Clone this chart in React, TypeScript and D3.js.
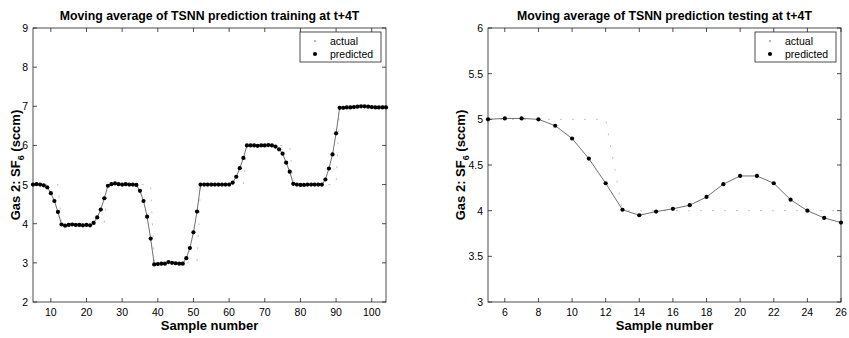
import React from 'react';
import * as d3 from 'd3';

// sample numbers
const trainSamples = d3.range(5, 105);
const testSamples = d3.range(5, 27);

// training: moving average, actual vs predicted
const trainActual = [
  5, 5, 5, 5, 5, 5, 5, 5,
  4, 4, 4, 4, 4, 4, 4, 4, 4, 4, 4, 4, 4,
  5, 5, 5, 5, 5, 5, 5, 5, 5, 5, 5, 5, 5,
  3, 3, 3, 3, 3, 3, 3, 3, 3, 3, 3, 3, 3,
  5, 5, 5, 5, 5, 5, 5, 5, 5, 5, 5, 5, 5,
  6, 6, 6, 6, 6, 6, 6, 6, 6, 6, 6, 6, 6,
  5, 5, 5, 5, 5, 5, 5, 5, 5, 5, 5, 5, 5,
  7, 7, 7, 7, 7, 7, 7, 7, 7, 7, 7, 7, 7, 7,
];
const trainPredicted = [
  5.0, 5.01, 5.0, 4.98, 4.93, 4.78, 4.58, 4.3, 3.98, 3.95,
  3.97, 3.98, 3.97, 3.97, 3.96, 3.97, 3.96, 4.02, 4.16, 4.36,
  4.65, 4.97, 5.01, 5.03, 5.01, 5.0, 5.01, 5.0, 5.0, 4.99,
  4.84, 4.58, 4.18, 3.62, 2.96, 2.97, 2.98, 2.98, 3.02, 3.0,
  2.99, 2.98, 2.98, 3.12, 3.38, 3.78, 4.31, 5.0, 5.0, 5.0,
  5.0, 5.0, 5.0, 5.0, 5.0, 5.0, 5.05, 5.2, 5.42, 5.68,
  6.0, 6.0, 6.0, 5.99, 6.0, 6.0, 6.01, 6.0, 5.97, 5.9,
  5.79, 5.56, 5.33, 5.02, 5.0, 4.99, 4.99, 5.0, 5.0, 5.0,
  5.0, 5.0, 5.13, 5.41, 5.77, 6.31, 6.96, 6.96, 6.97, 6.97,
  6.98, 6.99, 7.0, 7.0, 6.99, 6.98, 6.97, 6.97, 6.97, 6.97,
];

// testing
const testActual = [5, 5, 5, 5, 5, 5, 5, 5, 4, 4, 4, 4, 4, 4, 4, 4, 4, 4, 4, 4, 4, 4];
const testPredicted = [
  5.0, 5.01, 5.01, 5.0, 4.93, 4.79, 4.57, 4.3, 4.01, 3.95, 3.99,
  4.02, 4.06, 4.15, 4.29, 4.38, 4.38, 4.3, 4.12, 4.0, 3.92, 3.87,
];

const trainXTicks = [10, 20, 30, 40, 50, 60, 70, 80, 90, 100];
const trainYTicks = [2, 3, 4, 5, 6, 7, 8, 9];
const testXTicks = [6, 8, 10, 12, 14, 16, 18, 20, 22, 24, 26];
const testYTicks = [3, 3.5, 4, 4.5, 5, 5.5, 6];

const font = 'Arial, "Liberation Sans", Helvetica, sans-serif';

function Panel({ left, right, top, bottom, xDomain, yDomain, xTicks, yTicks, samples, actual, predicted, title, labelOffset }) {
  const x = d3.scaleLinear().domain(xDomain).range([left, right]);
  const y = d3.scaleLinear().domain(yDomain).range([bottom, top]);
  const line = d3.line<number>().x((_, i) => x(samples[i])).y(d => y(d));
  const tk = 4;
  const cx = (left + right) / 2;
  const cy = (top + bottom) / 2;
  const lgX = right - 86;
  return (
    <g fontFamily={font}>
      <text x={cx} y={20} textAnchor="middle" fontSize={12.3} fontWeight="bold">{title}</text>
      <rect x={left} y={top} width={right - left} height={bottom - top} fill="none" stroke="#222" strokeWidth={0.8} />
      {xTicks.map(t => (
        <g key={'x' + t}>
          <line x1={x(t)} x2={x(t)} y1={bottom} y2={bottom - tk} stroke="#222" strokeWidth={0.8} />
          <line x1={x(t)} x2={x(t)} y1={top} y2={top + tk} stroke="#222" strokeWidth={0.8} />
          <text x={x(t)} y={bottom + 14} textAnchor="middle" fontSize={10.5}>{t}</text>
        </g>
      ))}
      {yTicks.map(t => (
        <g key={'y' + t}>
          <line x1={left} x2={left + tk} y1={y(t)} y2={y(t)} stroke="#222" strokeWidth={0.8} />
          <line x1={right} x2={right - tk} y1={y(t)} y2={y(t)} stroke="#222" strokeWidth={0.8} />
          <text x={left - 5} y={y(t) + 4} textAnchor="end" fontSize={10.5}>{t}</text>
        </g>
      ))}
      <text x={cx} y={330} textAnchor="middle" fontSize={13} fontWeight="bold">Sample number</text>
      <text transform={`translate(${left - labelOffset},${cy}) rotate(-90)`} textAnchor="middle" fontSize={13} fontWeight="bold">
        Gas 2: SF<tspan dy={4} fontSize={9}>6</tspan><tspan dy={-4}> (sccm)</tspan>
      </text>
      <path d={line(actual) ?? ''} fill="none" stroke="#aaa" strokeWidth={0.7} strokeDasharray="2,10" />
      <path d={line(predicted) ?? ''} fill="none" stroke="#333" strokeWidth={0.7} />
      {predicted.map((v, i) => (
        <circle key={i} cx={x(samples[i])} cy={y(v)} r={2.1} fill="#000" />
      ))}
      <rect x={lgX} y={top + 4} width={81} height={30} fill="#fff" stroke="#222" strokeWidth={0.8} />
      <circle cx={lgX + 15} cy={top + 13} r={0.8} fill="#555" />
      <text x={lgX + 30} y={top + 17} fontSize={10.5}>actual</text>
      <circle cx={lgX + 15} cy={top + 26} r={2.1} fill="#000" />
      <text x={lgX + 30} y={top + 30} fontSize={10.5}>predicted</text>
    </g>
  );
}

export default function App() {
  return (
    <svg width={849} height={338} style={{ position: 'absolute', left: 0, top: 0, background: '#fff' }}>
      <rect width={849} height={338} fill="#fff" />
      <Panel
        left={33} right={386} top={28} bottom={302}
        xDomain={[5, 104]} yDomain={[2, 9]}
        xTicks={trainXTicks} yTicks={trainYTicks}
        samples={trainSamples} actual={trainActual} predicted={trainPredicted}
        title="Moving average of TSNN prediction training at t+4T"
        labelOffset={13}
      />
      <Panel
        left={488} right={841} top={28} bottom={302}
        xDomain={[5, 26]} yDomain={[3, 6]}
        xTicks={testXTicks} yTicks={testYTicks}
        samples={testSamples} actual={testActual} predicted={testPredicted}
        title="Moving average of TSNN prediction testing at t+4T"
        labelOffset={23}
      />
    </svg>
  );
}
